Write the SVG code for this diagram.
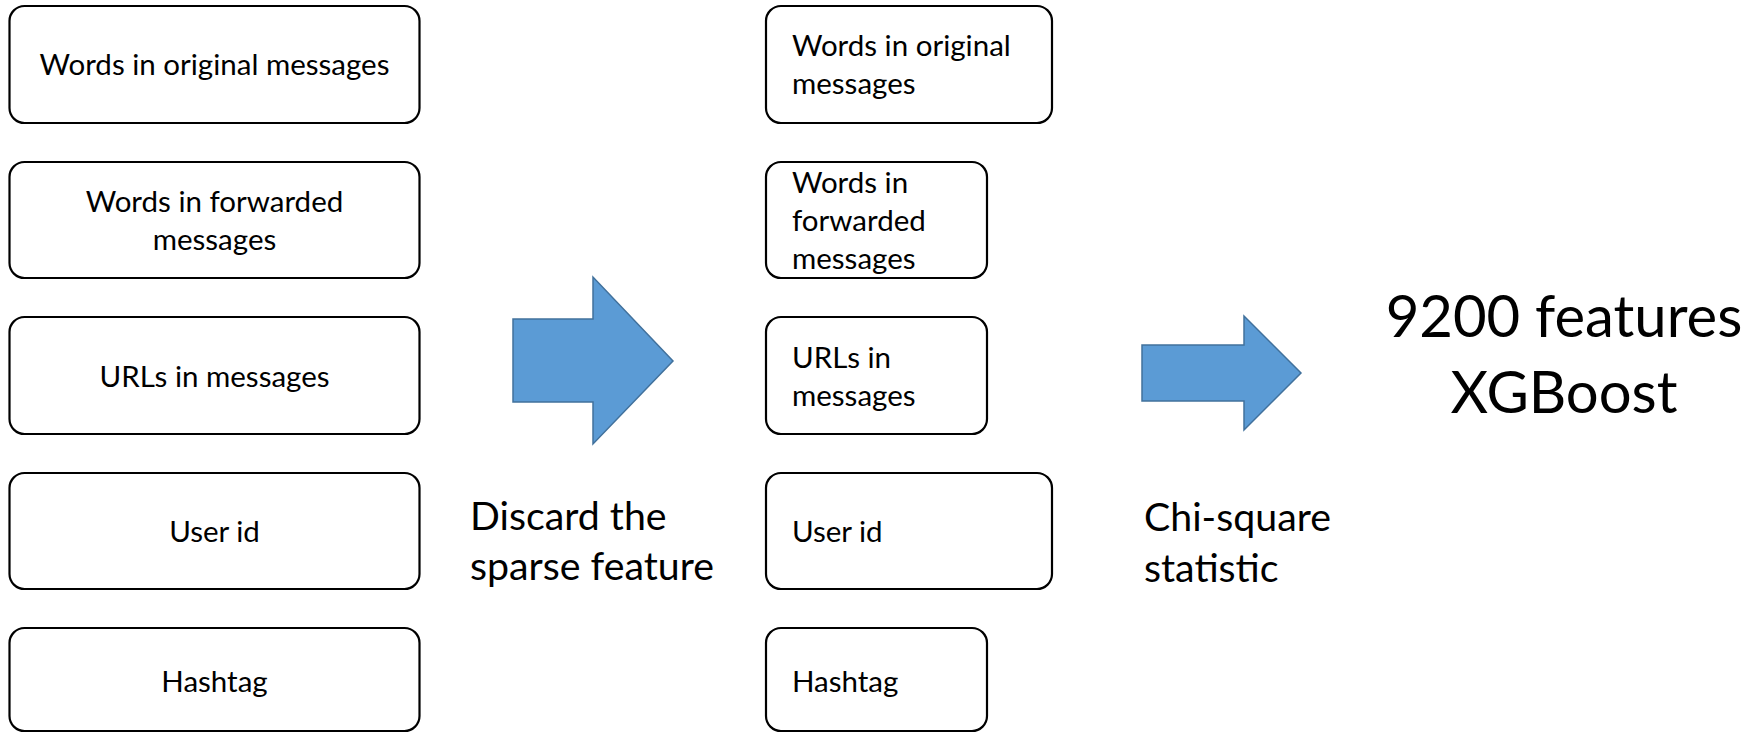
<svg xmlns="http://www.w3.org/2000/svg" width="1762" height="733" viewBox="0 0 1762 733">
<style>
.box{fill:#fff;stroke:#000;stroke-width:2.2}
.t{font-family:Lato,"Liberation Sans",sans-serif;font-size:29.5px;fill:#000}
.c{text-anchor:middle}
.lbl{font-family:Lato,"Liberation Sans",sans-serif;font-size:39.3px;fill:#000}
.big{font-family:Lato,"Liberation Sans",sans-serif;font-size:58px;fill:#000;text-anchor:middle}
.arrow{fill:#5B9BD5;stroke:#41719C;stroke-width:1.5}
</style>
<rect width="1762" height="733" fill="#fff"/>
<g id="left-words-original"><rect class="box" x="9.5" y="6" width="410" height="117" rx="15"/><text class="t c" x="214.5" y="75">Words in original messages</text></g>
<g id="left-words-forwarded"><rect class="box" x="9.5" y="162" width="410" height="116" rx="15"/><text class="t c" x="214.5" y="212">Words in forwarded</text><text class="t c" x="214.5" y="250">messages</text></g>
<g id="left-urls"><rect class="box" x="9.5" y="317" width="410" height="117" rx="15"/><text class="t c" x="214.5" y="387">URLs in messages</text></g>
<g id="left-userid"><rect class="box" x="9.5" y="473" width="410" height="116" rx="15"/><text class="t c" x="214.5" y="542">User id</text></g>
<g id="left-hashtag"><rect class="box" x="9.5" y="628" width="410" height="103" rx="15"/><text class="t c" x="214.5" y="692">Hashtag</text></g>
<g id="mid-words-original"><rect class="box" x="766" y="6" width="286" height="117" rx="15"/><text class="t" x="792" y="56">Words in original</text><text class="t" x="792" y="94">messages</text></g>
<g id="mid-words-forwarded"><rect class="box" x="766" y="162" width="221" height="116" rx="15"/><text class="t" x="792" y="193">Words in</text><text class="t" x="792" y="231">forwarded</text><text class="t" x="792" y="269">messages</text></g>
<g id="mid-urls"><rect class="box" x="766" y="317" width="221" height="117" rx="15"/><text class="t" x="792" y="368">URLs in</text><text class="t" x="792" y="406">messages</text></g>
<g id="mid-userid"><rect class="box" x="766" y="473" width="286" height="116" rx="15"/><text class="t" x="792" y="542">User id</text></g>
<g id="mid-hashtag"><rect class="box" x="766" y="628" width="221" height="103" rx="15"/><text class="t" x="792" y="692">Hashtag</text></g>
<g id="connectors">
<polygon class="arrow" points="513,319 593,319 593,277 673,361 593,444 593,402 513,402"/>
<polygon class="arrow" points="1142,345 1244,345 1244,316 1301,373 1244,430 1244,401 1142,401"/>
</g>
<g id="label-discard"><text class="lbl" x="470" y="530">Discard the</text><text class="lbl" x="470" y="580">sparse feature</text></g>
<g id="label-chi"><text class="lbl" x="1144" y="531">Chi-square</text><text class="lbl" x="1144" y="582">statistic</text></g>
<g id="result"><text class="big" x="1564" y="337">9200 features</text><text class="big" x="1564" y="413">XGBoost</text></g>
</svg>
